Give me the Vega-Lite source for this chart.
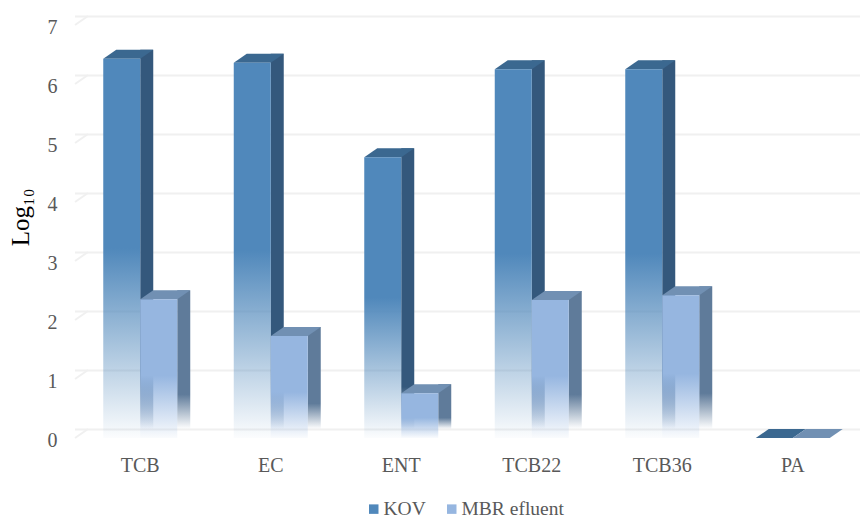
{"$schema":"https://vega.github.io/schema/vega-lite/v6.json","width":783,"height":413,"autosize":{"type":"none"},"padding":{"left":75,"top":25,"right":2,"bottom":82},"background":"white","config":{"view":{"stroke":null},"font":"Liberation Serif"},"datasets":{"grid":[{"v":0},{"v":1},{"v":2},{"v":3},{"v":4},{"v":5},{"v":6},{"v":7}],"bars":[{"cat":"TCB","series":"KOV","value":6.43},{"cat":"EC","series":"KOV","value":6.36},{"cat":"ENT","series":"KOV","value":4.76},{"cat":"TCB22","series":"KOV","value":6.25},{"cat":"TCB36","series":"KOV","value":6.25},{"cat":"PA","series":"KOV","value":0},{"cat":"TCB","series":"MBR efluent","value":2.35},{"cat":"EC","series":"MBR efluent","value":1.73},{"cat":"ENT","series":"MBR efluent","value":0.76},{"cat":"TCB22","series":"MBR efluent","value":2.34},{"cat":"TCB36","series":"MBR efluent","value":2.42},{"cat":"PA","series":"MBR efluent","value":0}]},"encoding":{"x":{"field":"cat","type":"nominal","sort":["TCB","EC","ENT","TCB22","TCB36","PA"],"scale":{"type":"band","domain":["TCB","EC","ENT","TCB22","TCB36","PA"],"paddingInner":0,"paddingOuter":0},"axis":{"title":null,"domain":false,"ticks":false,"labelAngle":0,"labelFontSize":20,"labelColor":"#595959","labelFont":"Liberation Serif","labelPadding":17}},"y":{"field":"value","type":"quantitative","scale":{"domain":[0,7],"nice":false},"axis":{"title":"Log₁₀","titleFont":"Liberation Serif","titleFontSize":25,"titleFontWeight":"normal","titleColor":"#000000","titleX":-42,"titleY":192,"values":[0,1,2,3,4,5,6,7],"grid":false,"domain":false,"ticks":false,"labelFontSize":20,"labelColor":"#595959","labelFont":"Liberation Serif","labelPadding":18,"labelOffset":2}}},"layer":[{"data":{"name":"grid"},"mark":{"type":"rule","color":"#f0f0f0","strokeWidth":2,"xOffset":13,"yOffset":-8.5},"encoding":{"x":null,"y":{"field":"v","type":"quantitative"}}},{"data":{"name":"grid"},"mark":{"type":"point","shape":"M0 0L13 -9","size":4,"filled":false,"color":"#f0f0f0","strokeWidth":2,"opacity":1,"xOffset":-65.25},"encoding":{"x":{"datum":"TCB"},"y":{"field":"v","type":"quantitative"}}},{"data":{"name":"bars"},"transform":[{"filter":"datum.series=='KOV'"}],"mark":{"type":"bar","width":13,"xOffset":6.5,"yOffset":-9,"color":{"gradient":"linear","x1":0,"y1":0,"x2":0,"y2":1,"stops":[{"offset":0,"color":"#34587c"},{"offset":0.85,"color":"#34587c"},{"offset":1,"color":"rgba(52,88,124,0)"}]}}},{"data":{"name":"bars"},"transform":[{"filter":"datum.series=='KOV'"}],"mark":{"type":"point","shape":"M-37 0L0 0L13 -9L-24 -9Z","size":4,"filled":true,"color":"#3b6890","opacity":1,"strokeWidth":0}},{"data":{"name":"bars"},"transform":[{"filter":"datum.series=='KOV'"}],"mark":{"type":"bar","width":37,"xOffset":-18.5,"color":{"gradient":"linear","x1":0,"y1":0,"x2":0,"y2":1,"stops":[{"offset":0,"color":"#5088bb"},{"offset":0.5,"color":"#5088bb"},{"offset":1,"color":"rgba(80,136,187,0.02)"}]}}},{"data":{"name":"bars"},"transform":[{"filter":"datum.series=='MBR efluent'"}],"mark":{"type":"bar","width":13,"xOffset":43.5,"yOffset":-9,"color":{"gradient":"linear","x1":0,"y1":0,"x2":0,"y2":1,"stops":[{"offset":0,"color":"#5f7b9a"},{"offset":0.75,"color":"#5f7b9a"},{"offset":1,"color":"rgba(95,123,154,0)"}]}}},{"data":{"name":"bars"},"transform":[{"filter":"datum.series=='MBR efluent'"}],"mark":{"type":"point","shape":"M0 0L37 0L50 -9L13 -9Z","size":4,"filled":true,"color":"#7190b3","opacity":1,"strokeWidth":0}},{"data":{"name":"bars"},"transform":[{"filter":"datum.series=='MBR efluent'"}],"mark":{"type":"bar","width":37,"xOffset":18.5,"color":{"gradient":"linear","x1":0,"y1":0,"x2":0,"y2":1,"stops":[{"offset":0,"color":"#96b6e0"},{"offset":0.55,"color":"#96b6e0"},{"offset":1,"color":"rgba(150,182,224,0.05)"}]}}},{"data":{"name":"bars"},"mark":{"type":"point","filled":true,"shape":"square","size":0,"opacity":0},"encoding":{"color":{"field":"series","type":"nominal","scale":{"domain":["KOV","MBR efluent"],"range":["#5088bb","#96b6e0"]},"legend":{"title":null,"orient":"none","direction":"horizontal","legendX":289,"legendY":474,"symbolType":"square","symbolSize":90,"symbolOpacity":1,"symbolStrokeWidth":0,"labelFont":"Liberation Serif","labelFontSize":19.5,"labelColor":"#595959","labelOffset":0,"columnPadding":16}}}}]}
